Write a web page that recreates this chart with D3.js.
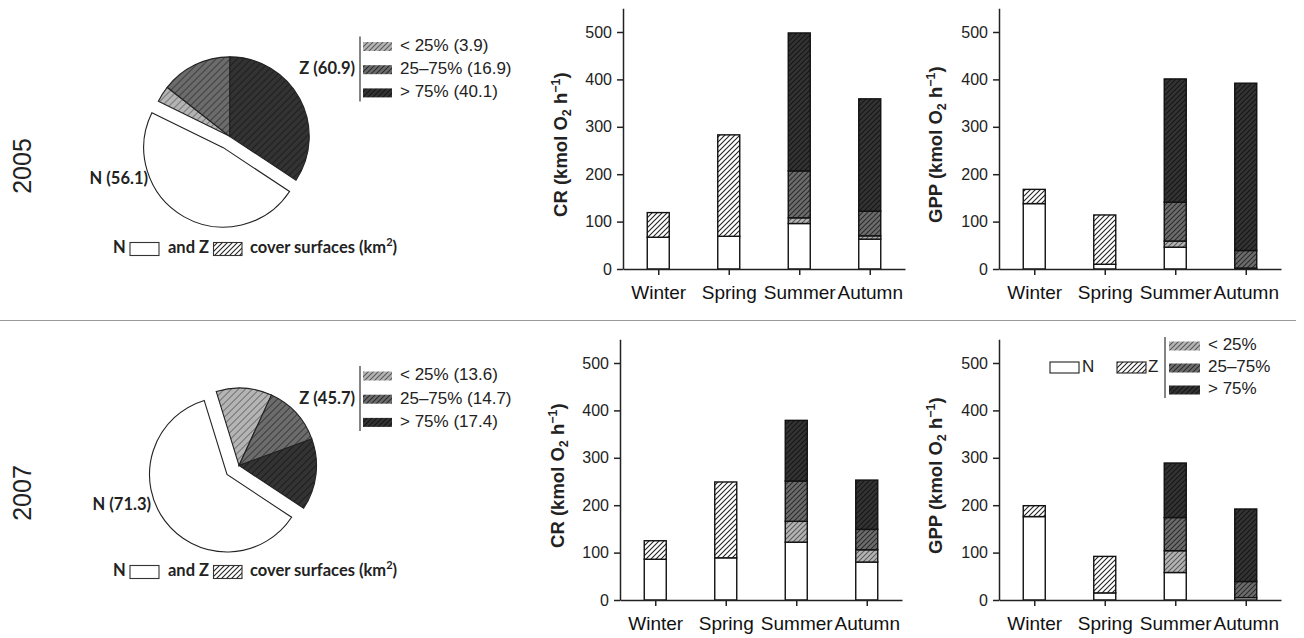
<!DOCTYPE html>
<html><head><meta charset="utf-8">
<script src="https://cdn.jsdelivr.net/npm/d3@7"></script>
<style>body{margin:0;background:#fff} svg{display:block}</style>
</head><body>
<svg id="c" width="1304" height="638"></svg>
<script>
// ---------- data ----------
const seasons = ["Winter","Spring","Summer","Autumn"];
const stackKeys = ["N","Z","lt25","mid","gt75"];
const yTicks = [0,100,200,300,400,500];

const cr2005N    = [67, 69, 96, 63];
const cr2005Z    = [52, 214, 0, 0];
const cr2005Lt25 = [0, 0, 12, 7];
const cr2005Mid  = [0, 0, 99, 52];
const cr2005Gt75 = [0, 0, 291, 237];

const gpp2005N    = [138, 10, 46, 0];
const gpp2005Z    = [30, 104, 0, 0];
const gpp2005Lt25 = [0, 0, 13, 2];
const gpp2005Mid  = [0, 0, 82, 37];
const gpp2005Gt75 = [0, 0, 260, 353];

const cr2007N    = [86, 89, 122, 80];
const cr2007Z    = [39, 160, 0, 0];
const cr2007Lt25 = [0, 0, 44, 26];
const cr2007Mid  = [0, 0, 85, 43];
const cr2007Gt75 = [0, 0, 128, 104];

const gpp2007N    = [176, 15, 58, 5];
const gpp2007Z    = [23, 77, 0, 0];
const gpp2007Lt25 = [0, 0, 46, 0];
const gpp2007Mid  = [0, 0, 70, 34];
const gpp2007Gt75 = [0, 0, 115, 153];

const pieKeys = ["N","lt25","mid","gt75"];
const pie2005 = [56.1, 3.9, 16.9, 40.1];
const pie2007 = [71.3, 13.6, 14.7, 17.4];
const pie2005Labels = {N:"N (56.1)", Z:"Z (60.9)", legend:["< 25% (3.9)","25\u201375% (16.9)","> 75% (40.1)"]};
const pie2007Labels = {N:"N (71.3)", Z:"Z (45.7)", legend:["< 25% (13.6)","25\u201375% (14.7)","> 75% (17.4)"]};
const coverLegend = ["< 25%","25\u201375%","> 75%"];
const years = ["2005","2007"];

// ---------- setup ----------
const svg = d3.select("#c");
const defs = svg.append("defs");
const SANS = "'Liberation Sans', Arial, Helvetica, sans-serif";
const PIEF = "Lato, 'Open Sans', sans-serif";

function addPattern(id, bg, line, size, lw){
  const p = defs.append("pattern").attr("id",id).attr("patternUnits","userSpaceOnUse")
    .attr("width",size).attr("height",size);
  p.append("rect").attr("width",size).attr("height",size).attr("fill",bg);
  p.append("path").attr("d",`M0,${size}L${size},0M${-size/2},${size/2}L${size/2},${-size/2}M${size/2},${size*1.5}L${size*1.5},${size/2}`)
    .attr("stroke",line).attr("stroke-width",lw).attr("fill","none");
}
const fillBg = {N:"#ffffff", Z:"#ffffff", lt25:"#b4b4b4", mid:"#6c6c6c", gt75:"#333333"};
const fillLn = {N:"none", Z:"#222222", lt25:"#5a5a5a", mid:"#2a2a2a", gt75:"#151515"};
["Z","lt25","mid","gt75"].forEach(k=>{
  addPattern("b_"+k, fillBg[k], fillLn[k], 5, 1.1);
  addPattern("p_"+k, fillBg[k], fillLn[k], 7, 1.0);
});
function barFill(k){ return k==="N" ? "#fff" : `url(#b_${k})`; }
function pieFill(k){ return k==="N" ? "#fff" : `url(#p_${k})`; }

// ---------- bar panels ----------
function barPanel(opt){
  const g = svg.append("g");
  const x = d3.scalePoint().domain(seasons).range([opt.x0, opt.x1]).padding(0.5);
  const y = d3.scaleLinear().domain([0,550]).range([opt.y0, opt.y0 - 550*0.474]);
  const rows = seasons.map((s,i)=>({season:s, N:opt.N[i], Z:opt.Z[i], lt25:opt.lt25[i], mid:opt.mid[i], gt75:opt.gt75[i]}));
  const series = d3.stack().keys(stackKeys)(rows);
  const bw = 22;
  series.forEach(ser=>{
    g.selectAll(null).data(ser.filter(d=>d[1]-d[0]>0)).enter().append("rect")
      .attr("x", d=>x(d.data.season)-bw/2)
      .attr("width", bw)
      .attr("y", d=>y(d[1]))
      .attr("height", d=>y(d[0])-y(d[1]))
      .attr("fill", barFill(ser.key))
      .attr("stroke","#111").attr("stroke-width",1.4);
  });
  const ya = g.append("g").attr("transform",`translate(${opt.x0},0)`)
    .call(d3.axisLeft(y).tickValues(yTicks).tickSize(6).tickSizeOuter(0).tickPadding(5));
  ya.selectAll("text").attr("font-size",16).attr("font-family",SANS).attr("fill","#222");
  const xa = g.append("g").attr("transform",`translate(0,${opt.y0})`)
    .call(d3.axisBottom(x).tickSize(6).tickSizeOuter(0).tickPadding(11));
  xa.selectAll("text").attr("font-size",19).attr("font-family",SANS).attr("fill","#111");
  [ya,xa].forEach(a=>{ a.selectAll("path,line").attr("stroke","#222").attr("stroke-width",1.5); });
  // title
  const t = g.append("text").attr("transform",`translate(${opt.tx},${(y(0)+y(550))/2+6}) rotate(-90)`)
    .attr("text-anchor","middle").attr("font-family",SANS).attr("font-weight","bold").attr("font-size",18.5).attr("fill","#222");
  t.append("tspan").text(opt.title+" (kmol O");
  t.append("tspan").attr("font-size",12.5).attr("dy",4).text("2");
  t.append("tspan").attr("dy",-4).text(" h");
  t.append("tspan").attr("font-size",12.5).attr("dy",-7).text("\u22121");
  t.append("tspan").attr("dy",7).text(")");
}

barPanel({x0:623, x1:905, y0:269, title:"CR", tx:567, N:cr2005N, Z:cr2005Z, lt25:cr2005Lt25, mid:cr2005Mid, gt75:cr2005Gt75});
barPanel({x0:999, x1:1281, y0:269, title:"GPP", tx:942, N:gpp2005N, Z:gpp2005Z, lt25:gpp2005Lt25, mid:gpp2005Mid, gt75:gpp2005Gt75});
barPanel({x0:620, x1:902, y0:600, title:"CR", tx:564, N:cr2007N, Z:cr2007Z, lt25:cr2007Lt25, mid:cr2007Mid, gt75:cr2007Gt75});
barPanel({x0:999, x1:1281, y0:600, title:"GPP", tx:942, N:gpp2007N, Z:gpp2007Z, lt25:gpp2007Lt25, mid:gpp2007Mid, gt75:gpp2007Gt75});

// ---------- pies ----------
const a0 = 123.5*Math.PI/180;
function piePanel(opt){
  const g = svg.append("g");
  const arcs = d3.pie().sort(null).startAngle(a0).endAngle(a0+2*Math.PI)(opt.vals);
  const arc = d3.arc().innerRadius(0).outerRadius(opt.r);
  const midN = (arcs[0].startAngle+arcs[0].endAngle)/2;
  const midZ = (arcs[1].startAngle+arcs[3].endAngle)/2;
  const off = a=>[opt.e*Math.sin(a), -opt.e*Math.cos(a)];
  const oN = off(midN), oZ = off(midZ);
  arcs.forEach((a,i)=>{
    const o = i===0 ? oN : oZ;
    g.append("path").attr("d",arc(a)).attr("transform",`translate(${opt.cx+o[0]},${opt.cy+o[1]})`)
      .attr("fill",pieFill(pieKeys[i])).attr("stroke","#222").attr("stroke-width",1.1);
  });
  // labels
  g.append("text").attr("x",opt.nx).attr("y",opt.ny).attr("text-anchor","end").attr("dominant-baseline","middle")
    .attr("font-family",PIEF).attr("font-weight","bold").attr("font-size",16.5).attr("fill","#222").text(opt.labels.N);
  g.append("text").attr("x",355).attr("y",opt.ly+23.5).attr("text-anchor","end").attr("dominant-baseline","middle")
    .attr("font-family",PIEF).attr("font-weight","bold").attr("font-size",16.5).attr("fill","#222").text(opt.labels.Z);
  g.append("line").attr("x1",360).attr("x2",360).attr("y1",opt.ly-10).attr("y2",opt.ly+55).attr("stroke","#333").attr("stroke-width",1.2);
  ["lt25","mid","gt75"].forEach((k,i)=>{
    const yy = opt.ly + i*23.2;
    g.append("rect").attr("x",363).attr("y",yy-4.5).attr("width",29).attr("height",9).attr("fill",barFill(k));
    g.append("text").attr("x",400).attr("y",yy).attr("dominant-baseline","middle").attr("font-family",SANS)
      .attr("font-size",17).attr("fill","#222").text(opt.labels.legend[i]);
  });
  // bottom legend
  const by = opt.by;
  const bt = (x,s)=>g.append("text").attr("x",x).attr("y",by).attr("dominant-baseline","middle")
    .attr("font-family",PIEF).attr("font-weight","bold").attr("font-size",16.5).attr("fill","#222").text(s);
  bt(113,"N");
  g.append("rect").attr("x",130).attr("y",by-6.5).attr("width",29).attr("height",13).attr("fill","#fff").attr("stroke","#333").attr("stroke-width",1.1);
  bt(168,"and Z");
  g.append("rect").attr("x",213.5).attr("y",by-6.5).attr("width",28.5).attr("height",13).attr("fill","url(#b_Z)").attr("stroke","#333").attr("stroke-width",1.1);
  const ct = bt(250,"cover surfaces (km");
  ct.append("tspan").attr("font-size",11).attr("dy",-6).text("2");
  ct.append("tspan").attr("dy",6).text(")");
  // year
  g.append("text").attr("transform",`translate(31,${opt.yy}) rotate(-90)`).attr("text-anchor","middle")
    .attr("font-family",SANS).attr("font-size",25).attr("fill","#222").text(opt.year);
}
piePanel({vals:pie2005, cx:226.5, cy:142, r:79.5, e:6.5, labels:pie2005Labels, nx:148, ny:180, ly:46.5, by:249, yy:166, year:years[0]});
piePanel({vals:pie2007, cx:233, cy:470, r:77.5, e:7.5, labels:pie2007Labels, nx:151, ny:506, ly:376, by:572, yy:493, year:years[1]});

// ---------- GPP 2007 legend ----------
const lg = svg.append("g");
lg.append("rect").attr("x",1050).attr("y",362).attr("width",29).attr("height",11).attr("fill","#fff").attr("stroke","#222").attr("stroke-width",1.1);
lg.append("text").attr("x",1082).attr("y",368).attr("dominant-baseline","middle").attr("font-family",SANS).attr("font-size",17).attr("fill","#222").text("N");
lg.append("rect").attr("x",1117).attr("y",362).attr("width",29).attr("height",11).attr("fill","url(#b_Z)").attr("stroke","#222").attr("stroke-width",1.1);
lg.append("text").attr("x",1148).attr("y",368).attr("dominant-baseline","middle").attr("font-family",SANS).attr("font-size",17).attr("fill","#222").text("Z");
lg.append("line").attr("x1",1165).attr("x2",1165).attr("y1",337).attr("y2",398).attr("stroke","#333").attr("stroke-width",1.2);
["lt25","mid","gt75"].forEach((k,i)=>{
  const yy = 346 + i*22;
  lg.append("rect").attr("x",1169).attr("y",yy-4.5).attr("width",31).attr("height",9).attr("fill",barFill(k));
  lg.append("text").attr("x",1208).attr("y",yy).attr("dominant-baseline","middle").attr("font-family",SANS)
    .attr("font-size",17).attr("fill","#222").text(coverLegend[i]);
});

// divider
svg.append("line").attr("x1",0).attr("x2",1296).attr("y1",320.5).attr("y2",320.5).attr("stroke","#999").attr("stroke-width",1.2);
</script>
</body></html>
